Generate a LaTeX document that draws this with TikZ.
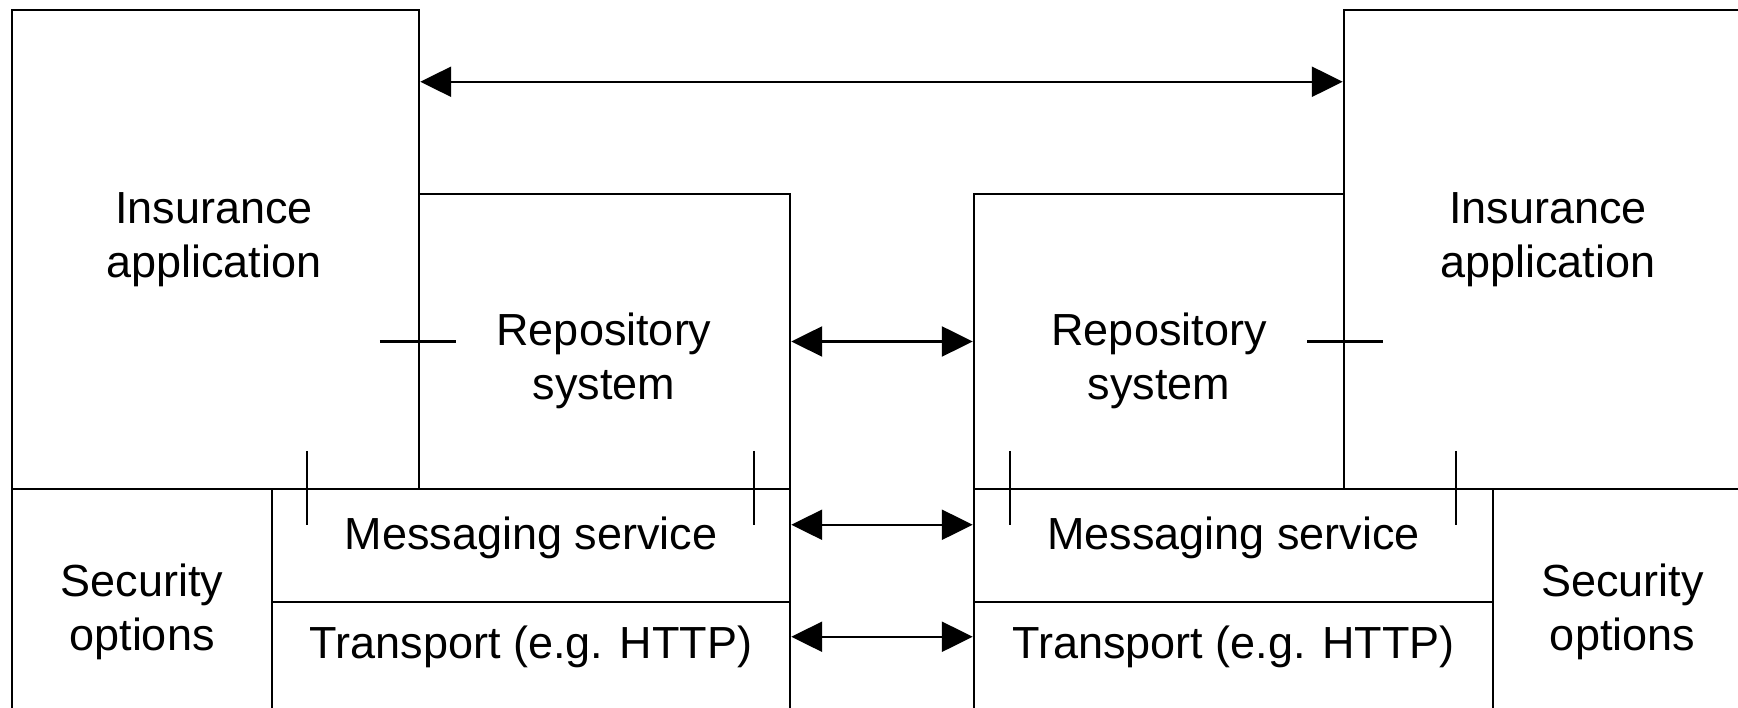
\documentclass[tikz,border=0pt]{standalone}
\usepackage{fontspec}
\setmainfont{Liberation Sans}
\usetikzlibrary{arrows.meta}
\tikzset{
  box/.style 2 args={draw,minimum width=#1cm,minimum height=#2cm,inner sep=0pt},
  lbl/.style={font=\fontsize{12.8}{15.3}\selectfont,align=center,inner sep=0pt},
  link/.style={{Triangle[length=3.1mm,width=3mm]}-{Triangle[length=3.1mm,width=3mm]}},
}
\begin{document}
\begin{tikzpicture}[line width=0.7pt]
\useasboundingbox (0,0) rectangle (17.38,7.08);
\clip (0,0) rectangle (17.38,7.08);
%left side
\node[box={4.07}{4.79}] (insL) at (2.155,4.585) {};
\node[box={3.71}{2.95}] (repL) at (6.045,3.665) {};
\node[box={5.18}{1.13}] (msgL) at (5.31,1.625) {};
\node[box={5.18}{1.13}] (trnL) at (5.31,0.495) {};
\node[box={2.60}{2.26}] (secL) at (1.42,1.06) {};
%right side
\node[box={3.70}{2.95}] (repR) at (11.59,3.665) {};
\node[box={4.08}{4.79}] (insR) at (15.48,4.585) {};
\node[box={5.19}{1.13}] (msgR) at (12.335,1.625) {};
\node[box={5.19}{1.13}] (trnR) at (12.335,0.495) {};
\node[box={2.59}{2.26}] (secR) at (16.225,1.06) {};
%labels
\node[lbl] (insLt) at (2.14,4.68) {Insurance\\application};
\node[lbl] (repLt) at (6.04,3.47) {Repository\\system};
\node[lbl] (msgLt) at (5.31,1.70) {Messaging service};
\node[lbl] (trnLt) at (5.31,0.61) {Transport (e.g. HTTP)};
\node[lbl] (secLt) at (1.42,0.96) {Security\\options};
\node[lbl] (insRt) at (15.48,4.68) {Insurance\\application};
\node[lbl] (repRt) at (11.59,3.47) {Repository\\system};
\node[lbl] (msgRt) at (12.335,1.70) {Messaging service};
\node[lbl] (trnRt) at (12.335,0.61) {Transport (e.g. HTTP)};
\node[lbl] (secRt) at (16.225,0.96) {Security\\options};
%peer links
\draw[link] ([yshift=-7.3mm]insL.north east) -- ([yshift=-7.3mm]insR.north west);
\draw[link] (repL.east) -- (repR.west);
\draw[link] ([yshift=-3.7mm]msgL.north east) -- ([yshift=-3.7mm]msgR.north west);
\draw[link] ([yshift=-3.6mm]trnL.north east) -- ([yshift=-3.6mm]trnR.north west);
%interface ticks
\draw ([xshift=-3.8mm]repL.west) -- ([xshift=3.8mm]repL.west);
\draw ([xshift=-3.8mm]repR.east) -- ([xshift=3.8mm]repR.east);
\draw ([shift={(3.6mm,3.7mm)}]msgL.north west) -- ([shift={(3.6mm,-3.7mm)}]msgL.north west);
\draw ([shift={(-3.7mm,3.7mm)}]msgL.north east) -- ([shift={(-3.7mm,-3.7mm)}]msgL.north east);
\draw ([shift={(3.7mm,3.7mm)}]msgR.north west) -- ([shift={(3.7mm,-3.7mm)}]msgR.north west);
\draw ([shift={(-3.8mm,3.7mm)}]msgR.north east) -- ([shift={(-3.8mm,-3.7mm)}]msgR.north east);
\end{tikzpicture}
\end{document}
